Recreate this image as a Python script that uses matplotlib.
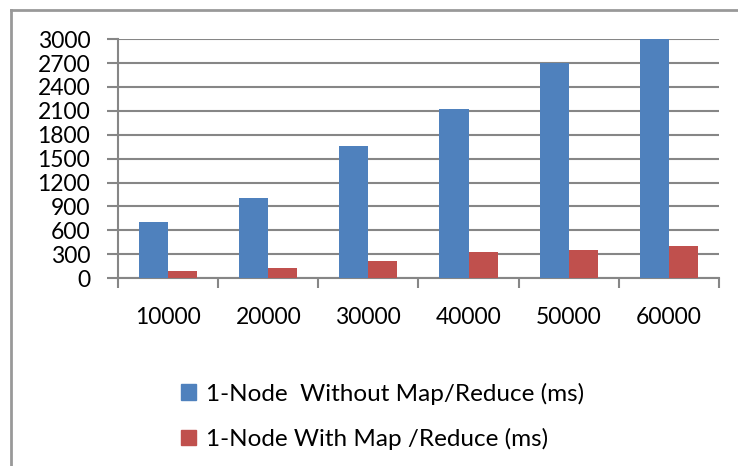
import numpy as np
import matplotlib.pyplot as plt
from matplotlib.lines import Line2D
from matplotlib.patches import Patch

categories = ['10000', '20000', '30000', '40000', '50000', '60000']
without_mr = [710, 1010, 1660, 2125, 2700, 3000]
with_mr = [95, 130, 220, 330, 355, 405]
series_names = ['1-Node  Without Map/Reduce (ms)', '1-Node With Map /Reduce (ms)']
yticks = list(range(0, 3001, 300))

blue = '#4F81BD'
red = '#C0504D'
gray = '#868686'

plt.rcParams['font.family'] = ['Lato', 'DejaVu Sans']

fig = plt.figure(figsize=(7.38, 4.66), dpi=100)
ax = fig.add_axes([0.160, 0.403, 0.814, 0.513])

x = np.arange(len(categories))
w = 0.29
ax.bar(x - w / 2, without_mr, w, color=blue, zorder=3)
ax.bar(x + w / 2, with_mr, w, color=red, zorder=3)

ax.set_xlim(-0.5, len(categories) - 0.5)
ax.set_ylim(0, 3000)
ax.set_yticks(yticks)
ax.set_yticklabels([str(v) for v in yticks], fontsize=16.5)
ax.yaxis.grid(True, color=gray, linewidth=1.5, zorder=0)

# category labels centered, ticks on boundaries
ax.set_xticks(x)
ax.set_xticklabels(categories, fontsize=16.5)
ax.tick_params(axis='x', length=0, pad=21)
ax.set_xticks(np.arange(-0.5, len(categories)), minor=True)
ax.tick_params(axis='x', which='minor', length=7, width=1.5, color=gray)
ax.tick_params(axis='y', length=8, width=1.5, color=gray, pad=12)

for s in ['top', 'right']:
    ax.spines[s].set_visible(False)
for s in ['left', 'bottom']:
    ax.spines[s].set_color(gray)
    ax.spines[s].set_linewidth(1.5)

handles = [Patch(color=blue), Patch(color=red)]
fig.legend(handles, series_names, loc='upper left', bbox_to_anchor=(0.232, 0.2),
           frameon=False, fontsize=17.5, handlelength=0.6, handleheight=0.6,
           handletextpad=0.45, labelspacing=0.95, borderaxespad=0)

# outer frame (left and top edges)
fig.add_artist(Line2D([11 / 738, 11 / 738], [0, 1 - 10 / 466],
                      transform=fig.transFigure, color='#999999', linewidth=2))
fig.add_artist(Line2D([11 / 738, 1], [1 - 10 / 466, 1 - 10 / 466],
                      transform=fig.transFigure, color='#999999', linewidth=2))

fig.savefig('out.png', dpi=100)
